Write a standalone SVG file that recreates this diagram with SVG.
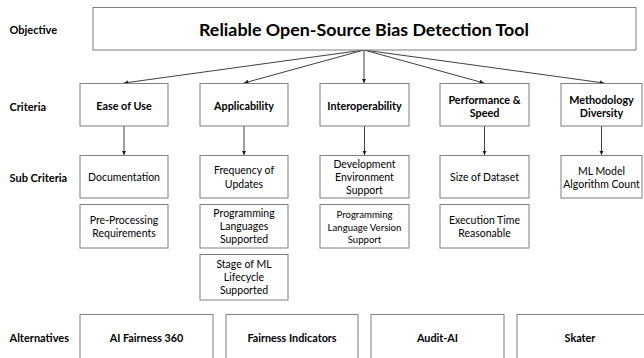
<svg xmlns="http://www.w3.org/2000/svg" width="644" height="358" viewBox="0 0 644 358">
<style>
.box{fill:#fff;stroke:#7f7f7f;stroke-width:1}
.b{font-family:Lato,"Liberation Sans",sans-serif;font-weight:bold;font-size:10.8px;fill:#000;text-anchor:middle;dominant-baseline:central}
.r{font-family:Lato,"Liberation Sans",sans-serif;font-size:10.5px;fill:#000;text-anchor:middle;dominant-baseline:central}
.lab{font-family:Lato,"Liberation Sans",sans-serif;font-weight:bold;font-size:11px;fill:#000;text-anchor:start;dominant-baseline:central}
.con{stroke:#404040;stroke-width:1;fill:none;marker-end:url(#ah)}
</style>
<defs>
<marker id="ah" viewBox="0 0 10 10" refX="10" refY="5" markerWidth="4.5" markerHeight="4.5" orient="auto" markerUnits="userSpaceOnUse">
<path d="M0,0 L10,5 L0,10 z" fill="#202020"/>
</marker>
</defs>
<rect width="644" height="358" fill="#fff"/>
<g id="level-labels">
<text class="lab" x="9.5" y="29">Objective</text>
<text class="lab" x="9.5" y="106">Criteria</text>
<text class="lab" x="9.5" y="177">Sub Criteria</text>
<text class="lab" x="9.5" y="337">Alternatives</text>
</g>
<g id="connectors">
<line class="con" x1="364" y1="50" x2="124" y2="83"/>
<line class="con" x1="364" y1="50" x2="244" y2="83"/>
<line class="con" x1="364" y1="50" x2="364" y2="83"/>
<line class="con" x1="364" y1="50" x2="484" y2="83"/>
<line class="con" x1="364" y1="50" x2="604" y2="83"/>
<line class="con" x1="124" y1="126" x2="124" y2="155"/>
<line class="con" x1="244" y1="126" x2="244" y2="155"/>
<line class="con" x1="364.5" y1="126" x2="364.5" y2="155"/>
<line class="con" x1="484.5" y1="126" x2="484.5" y2="155"/>
<line class="con" x1="601.5" y1="126" x2="601.5" y2="155"/>
</g>
<g id="objective">
<rect class="box" x="93" y="7.5" width="543" height="42.5"/>
<text class="b" x="364" y="29" style="font-size:17.5px" textLength="330" lengthAdjust="spacingAndGlyphs">Reliable Open-Source Bias Detection Tool</text>
</g>
<g id="crit-ease">
<rect class="box" x="80" y="83.5" width="88" height="42.5"/>
<text class="b" x="124" y="105">Ease of Use</text>
</g>
<g id="crit-applicability">
<rect class="box" x="200" y="83.5" width="88" height="42.5"/>
<text class="b" x="244" y="105">Applicability</text>
</g>
<g id="crit-interoperability">
<rect class="box" x="320" y="83.5" width="89" height="42.5"/>
<text class="b" x="364.5" y="105">Interoperability</text>
</g>
<g id="crit-performance">
<rect class="box" x="440" y="83.5" width="89" height="42.5"/>
<text class="b" x="484.5" y="99">Performance &amp;</text>
<text class="b" x="484.5" y="112">Speed</text>
</g>
<g id="crit-methodology">
<rect class="box" x="561" y="83.5" width="81" height="42.5"/>
<text class="b" x="601.5" y="99">Methodology</text>
<text class="b" x="601.5" y="112">Diversity</text>
</g>
<g id="sub-documentation">
<rect class="box" x="80" y="155.5" width="88" height="42.5"/>
<text class="r" x="124" y="177">Documentation</text>
</g>
<g id="sub-preprocessing">
<rect class="box" x="80" y="204.5" width="88" height="43.5"/>
<text class="r" x="124" y="220">Pre-Processing</text>
<text class="r" x="124" y="233">Requirements</text>
</g>
<g id="sub-frequency">
<rect class="box" x="200" y="155.5" width="88" height="42.5"/>
<text class="r" x="244" y="170">Frequency of</text>
<text class="r" x="244" y="184">Updates</text>
</g>
<g id="sub-languages">
<rect class="box" x="200" y="204.5" width="88" height="43.5"/>
<text class="r" x="244" y="213">Programming</text>
<text class="r" x="244" y="226">Languages</text>
<text class="r" x="244" y="239">Supported</text>
</g>
<g id="sub-stage">
<rect class="box" x="200" y="254.5" width="88" height="45.5"/>
<text class="r" x="244" y="264">Stage of ML</text>
<text class="r" x="244" y="277">Lifecycle</text>
<text class="r" x="244" y="290">Supported</text>
</g>
<g id="sub-devenv">
<rect class="box" x="320" y="155.5" width="89" height="42.5"/>
<text class="r" x="364.5" y="163.5">Development</text>
<text class="r" x="364.5" y="176.5">Environment</text>
<text class="r" x="364.5" y="189.5">Support</text>
</g>
<g id="sub-langversion">
<rect class="box" x="320" y="204.5" width="89" height="43.5"/>
<text class="r" x="364.5" y="214" style="font-size:9.6px">Programming</text>
<text class="r" x="364.5" y="227" style="font-size:9.6px">Language Version</text>
<text class="r" x="364.5" y="239.5" style="font-size:9.6px">Support</text>
</g>
<g id="sub-dataset">
<rect class="box" x="440" y="155.5" width="89" height="42.5"/>
<text class="r" x="484.5" y="177">Size of Dataset</text>
</g>
<g id="sub-exectime">
<rect class="box" x="440" y="204.5" width="89" height="43.5"/>
<text class="r" x="484.5" y="220">Execution Time</text>
<text class="r" x="484.5" y="233">Reasonable</text>
</g>
<g id="sub-mlmodel">
<rect class="box" x="561" y="155.5" width="81" height="42.5"/>
<text class="r" x="601.5" y="170.5">ML Model</text>
<text class="r" x="601.5" y="183.5">Algorithm Count</text>
</g>
<g id="alt-aif360">
<rect class="box" x="80" y="314.5" width="133" height="50"/>
<text class="b" x="146.5" y="337">AI Fairness 360</text>
</g>
<g id="alt-fairness-indicators">
<rect class="box" x="226" y="314.5" width="132" height="50"/>
<text class="b" x="292" y="337">Fairness Indicators</text>
</g>
<g id="alt-audit-ai">
<rect class="box" x="371" y="314.5" width="133" height="50"/>
<text class="b" x="437.5" y="337">Audit-AI</text>
</g>
<g id="alt-skater">
<rect class="box" x="517" y="314.5" width="133" height="50"/>
<text class="b" x="580" y="337">Skater</text>
</g>
</svg>
